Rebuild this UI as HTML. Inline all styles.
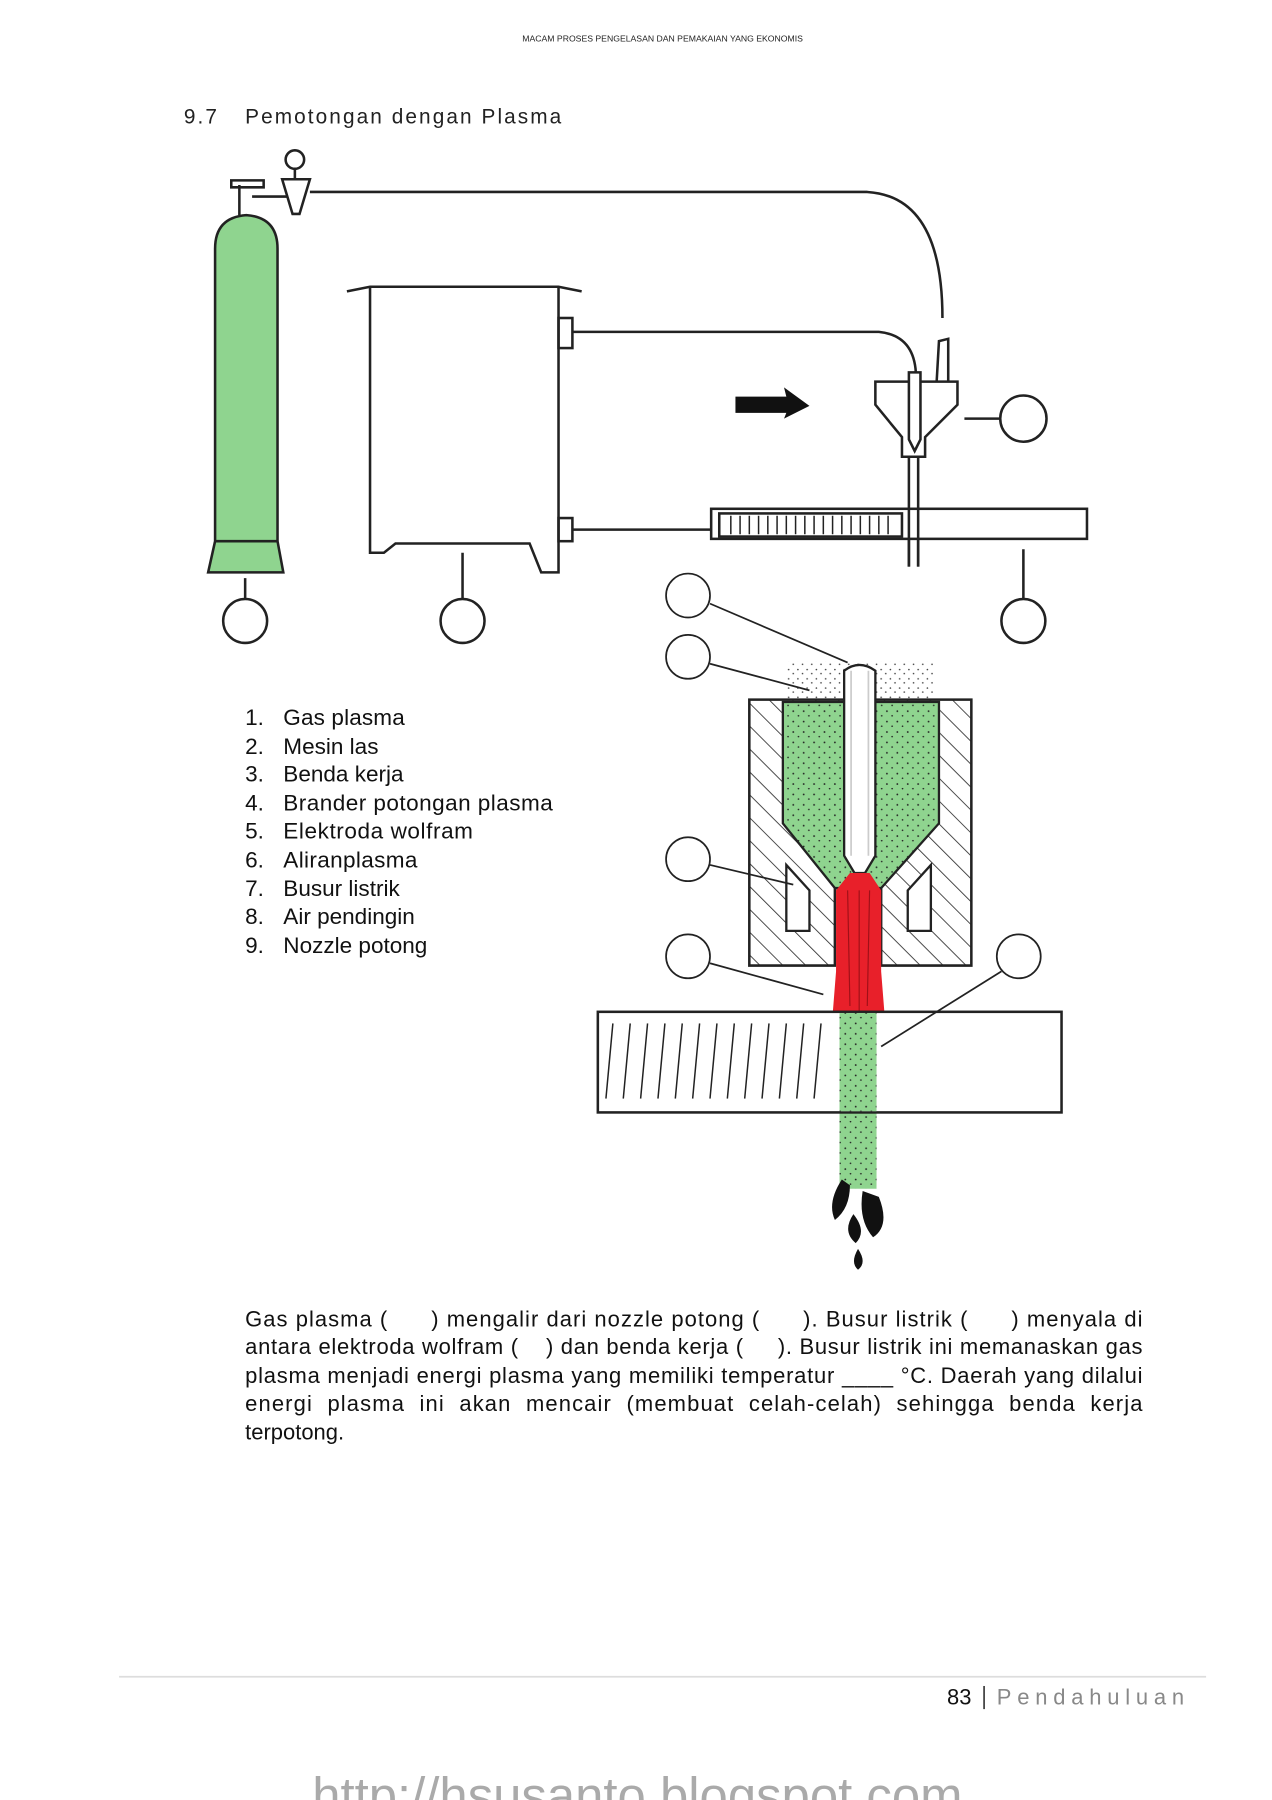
<!DOCTYPE html>
<html><head><meta charset="utf-8"><style>
html,body{margin:0;padding:0;background:#fff;}
svg{display:block;}
text{font-family:"Liberation Sans",sans-serif;white-space:pre;}
</style></head><body>
<svg width="1272" height="1800" viewBox="0 0 1100 1556.6" xmlns="http://www.w3.org/2000/svg" xml:space="preserve">
<defs>
<pattern id="hatch" width="14" height="14" patternUnits="userSpaceOnUse" patternTransform="rotate(-45)">
<rect width="14" height="14" fill="#fff"/><line x1="0" y1="0" x2="0" y2="14" stroke="#333" stroke-width="1.5"/></pattern>
<pattern id="dots" width="9" height="9" patternUnits="userSpaceOnUse">
<rect width="9" height="9" fill="#8fd48f"/><circle cx="2" cy="3" r="0.8" fill="#222"/><circle cx="6.5" cy="7" r="0.7" fill="#222"/></pattern>
<pattern id="dots2" width="8" height="8" patternUnits="userSpaceOnUse">
<rect width="8" height="8" fill="#fff"/><circle cx="2" cy="3" r="0.7" fill="#444"/><circle cx="6" cy="6.5" r="0.7" fill="#444"/></pattern>
</defs>
<text x="573" y="36" font-size="7.5" text-anchor="middle" fill="#222">MACAM PROSES PENGELASAN DAN PEMAKAIAN YANG EKONOMIS</text>
<text x="159" y="107" font-size="18" letter-spacing="1.8" fill="#222">9.7</text>
<text x="212" y="107" font-size="18" letter-spacing="1.8" fill="#222">Pemotongan dengan Plasma</text>

<g stroke="#222" stroke-width="2.2" fill="none">
<path d="M186,215 Q186,188 213,186 Q240,188 240,215 L240,468 L245,495 L180,495 L186,468 Z" fill="#8fd48f"/>
<path d="M186,468 L240,468" />
<path d="M207,186 L207,160 M200,156 L228,156 L228,162 L200,162 Z M218,170 L248,170" fill="#fff"/>
<circle cx="255" cy="138" r="8" fill="#fff"/>
<path d="M255,146 L255,155 M244,155 L268,155 L259,185 L253,185 Z" fill="#fff"/>
<path d="M268,166 L750,166 Q815,170 815,275"/>
<path d="M300,252 L320,248 L483,248 L503,252"/>
<path d="M320,248 L320,478 L332,478 L342,470 L458,470 L468,495 L483,495 L483,248"/>
<rect x="483" y="275" width="12" height="26"/>
<rect x="483" y="448" width="12" height="20"/>
<path d="M495,287 L760,287 Q790,290 792,322"/>
<path d="M495,458 L620,458"/>
<path d="M757,330 L828,330 L828,350 L800,378 L800,395 L780,395 L780,378 L757,350 Z" fill="#fff"/>
<path d="M810,330 L812,295 L820,293 L820,330"/>
<path d="M786,322 L796,322 L796,380 L791,390 L786,380 Z" fill="#fff"/>
<path d="M786,395 L786,490 M794,395 L794,490"/>
<path d="M834,362 L865,362"/>
<circle cx="885" cy="362" r="20"/>
<rect x="615" y="440" width="325" height="26" fill="#fff"/>
<rect x="622" y="444" width="158" height="20" fill="#fff"/>
<path d="M632,446 v16 M640,446 v16 M648,446 v16 M656,446 v16 M664,446 v16 M672,446 v16 M680,446 v16 M688,446 v16 M696,446 v16 M704,446 v16 M712,446 v16 M720,446 v16 M728,446 v16 M736,446 v16 M744,446 v16 M752,446 v16 M760,446 v16 M768,446 v16" stroke-width="1.3"/>
<path d="M786,440 L786,490 M794,440 L794,490"/>
<path d="M212,500 V518 M400,478 V518 M885,475 V518"/>
<circle cx="212" cy="537" r="19"/><circle cx="400" cy="537" r="19"/><circle cx="885" cy="537" r="19"/>
</g>
<path d="M636,343 L680,343 L678,335 L700,351 L678,362 L680,357 L636,357 Z" fill="#111"/>

<rect x="680" y="572" width="128" height="35" fill="url(#dots2)"/>
<path d="M648,605 L840,605 L840,835 L762,835 L762,768 L722,768 L722,835 L648,835 Z" fill="url(#hatch)" stroke="#222" stroke-width="2.2"/>
<path d="M677,607 L812,607 L812,712 L762,768 L722,768 L677,712 Z" fill="url(#dots)" stroke="#222" stroke-width="2"/>
<path d="M680,748 L700,770 L700,805 L680,805 Z M805,748 L785,770 L785,805 L805,805 Z" fill="#fff" stroke="#222" stroke-width="2"/>
<path d="M730,580 Q743,570 757,580 L757,740 L748,755 L739,755 L730,740 Z" fill="#fff" stroke="#222" stroke-width="2"/>
<path d="M736,580 L736,740 M751,580 L751,740" stroke="#ccc" stroke-width="1.5"/>
<path d="M735,755 L752,755 L762,770 L762,840 L765,878 L720,878 L723,840 L723,770 Z" fill="#e8202a"/>
<path d="M733,770 L735,870 M743,770 L743,875 M752,770 L750,870" stroke="#a01018" stroke-width="1"/>
<rect x="726" y="878" width="32" height="150" fill="url(#dots)"/>
<rect x="517" y="875" width="401" height="87" fill="#fff" stroke="#222" stroke-width="2.2"/>
<rect x="726" y="876" width="32" height="85" fill="url(#dots)"/>
<g stroke="#222" stroke-width="1.3">
<path d="M530,885 l-6,65 M545,885 l-6,65 M560,885 l-6,65 M575,885 l-6,65 M590,885 l-6,65 M605,885 l-6,65 M620,885 l-6,65 M635,885 l-6,65 M650,885 l-6,65 M665,885 l-6,65 M680,885 l-6,65 M695,885 l-6,65 M710,885 l-6,65"/>
</g>
<path d="M728,1020 Q715,1040 722,1055 Q735,1045 735,1025 Z M746,1030 Q742,1055 755,1070 Q770,1060 760,1035 Z M738,1050 Q728,1065 740,1075 Q750,1065 738,1050 Z M742,1080 Q735,1092 742,1098 Q750,1092 742,1080 Z" fill="#111"/>
<g stroke="#222" stroke-width="1.5" fill="none">
<circle cx="595" cy="515" r="19"/><circle cx="595" cy="568" r="19"/><circle cx="595" cy="743" r="19"/><circle cx="595" cy="827" r="19"/><circle cx="881" cy="827" r="19"/>
<path d="M614,522 L733,573 M614,574 L700,597 M614,748 L686,765 M614,833 L712,860 M866,840 L762,905"/>
</g>

<g font-size="19.5" fill="#111">
<text x="212" y="627">1.</text><text x="245" y="627" textLength="105">Gas plasma</text>
<text x="212" y="652">2.</text><text x="245" y="652">Mesin las</text>
<text x="212" y="676">3.</text><text x="245" y="676">Benda kerja</text>
<text x="212" y="701">4.</text><text x="245" y="701" textLength="233">Brander potongan plasma</text>
<text x="212" y="725">5.</text><text x="245" y="725" textLength="164">Elektroda wolfram</text>
<text x="212" y="750">6.</text><text x="245" y="750" textLength="116">Aliranplasma</text>
<text x="212" y="775">7.</text><text x="245" y="775">Busur listrik</text>
<text x="212" y="799">8.</text><text x="245" y="799">Air pendingin</text>
<text x="212" y="824">9.</text><text x="245" y="824">Nozzle potong</text>
</g>
<g font-size="19" fill="#111">
<text x="212" y="1147" textLength="776" lengthAdjust="spacing">Gas plasma (      ) mengalir dari nozzle potong (      ). Busur listrik (      ) menyala di</text>
<text x="212" y="1171" textLength="776" lengthAdjust="spacing">antara elektroda wolfram (    ) dan benda kerja (     ). Busur listrik ini memanaskan gas</text>
<text x="212" y="1196" textLength="776" lengthAdjust="spacing">plasma menjadi energi plasma yang memiliki temperatur ____ °C. Daerah yang dilalui</text>
<text x="212" y="1220" textLength="776" lengthAdjust="spacing">energi  plasma  ini  akan  mencair  (membuat  celah-celah)  sehingga  benda  kerja</text>
<text x="212" y="1245">terpotong.</text>
</g>
<line x1="103" y1="1450" x2="1043" y2="1450" stroke="#ddd" stroke-width="1.5"/>
<text x="819" y="1474" font-size="19" fill="#111">83</text>
<line x1="851" y1="1458" x2="851" y2="1478" stroke="#111" stroke-width="1.2"/>
<text x="862" y="1474" font-size="19" fill="#888" letter-spacing="5">Pendahuluan</text>
<text x="270" y="1568" font-size="44" fill="#aaa">http://hsusanto.blogspot.com</text>
</svg>
</body></html>
